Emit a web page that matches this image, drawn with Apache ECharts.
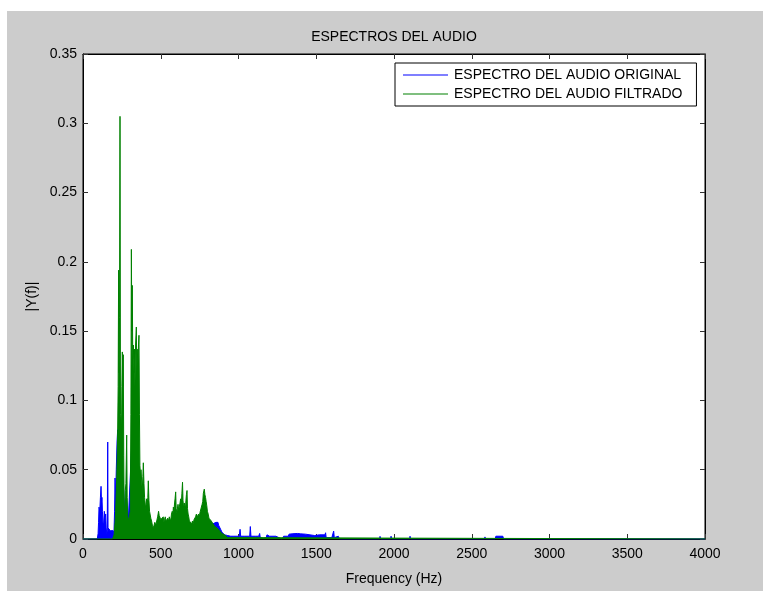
<!DOCTYPE html>
<html>
<head>
<meta charset="utf-8">
<title>ESPECTROS DEL AUDIO</title>
<script src="https://cdn.jsdelivr.net/npm/echarts@6/dist/echarts.min.js"></script>
<style>
  html, body { margin: 0; padding: 0; background: #fff; }
  #chart { width: 763px; height: 591px; }
</style>
</head>
<body>
<div id="chart"></div>
<script>
// Magnitude spectrum of the original audio (upper envelope, Hz / |Y(f)|)
const blueHz = [0, 92, 97, 100, 103, 108, 112, 116, 119, 122, 125, 128, 132, 137, 142, 146, 149, 153, 156, 159, 161, 165, 170, 176, 182, 188, 194, 199, 203, 206, 210, 214, 219, 223, 226,
  230, 240, 250, 260, 270, 280, 290, 300, 310, 320, 330, 340, 350, 360, 370, 380, 390, 400, 420, 440, 460, 480, 500, 520, 540, 560, 580, 600, 620, 640, 660, 680, 700, 720, 740, 760, 780, 800, 820, 830,
  836, 842, 848, 855, 862, 868, 872, 878, 885, 893, 900, 910, 920, 930, 950, 970, 990, 1005, 1010, 1014, 1040, 1072, 1076, 1080, 1110, 1130, 1136, 1140, 1160, 1178, 1183, 1190, 1200, 1240, 1250, 1280, 1290, 1320, 1325, 1350, 1380, 1400, 1430, 1440, 1490, 1520, 1556, 1560, 1564, 1600, 1612, 1616, 1642, 1650,
  1908, 1910, 1914, 1979, 1981, 1984, 2101, 2103, 2106, 2583, 2585, 2588, 2650, 2655, 2700, 2705, 4000];
const blueAmp = [0, 0, 0.004, 0.012, 0.023, 0.02, 0.03, 0.038, 0.027, 0.03, 0.02, 0.012, 0.01, 0.02, 0.016, 0.018, 0.008, 0.004, 0.006, 0.070, 0.008, 0.007, 0.008, 0.006, 0.007, 0.005, 0.006, 0.004, 0.02, 0.044, 0.03, 0.05, 0.07, 0.079, 0.06,
  0.07, 0.06, 0.05, 0.04, 0.015, 0.03, 0.01, 0.01, 0.06, 0.08, 0.07, 0.06, 0.07, 0.05, 0.03, 0.025, 0.025, 0.018, 0.018, 0.009, 0.007, 0.011, 0.01, 0.009, 0.009, 0.01, 0.013, 0.015, 0.015, 0.02, 0.016, 0.01, 0.009, 0.01, 0.012, 0.015, 0.02, 0.014, 0.011, 0.01,
  0.011, 0.012, 0.011, 0.012, 0.012, 0.012, 0.01, 0.009, 0.007, 0.005, 0.004, 0.003, 0.0025, 0.0025, 0.002, 0.002, 0.002, 0.002, 0.007, 0.002, 0.002, 0.002, 0.009, 0.002, 0.002, 0.002, 0.004, 0.001, 0.0005, 0.001, 0.003, 0.002, 0.002, 0.002, 0.001, 0, 0.002, 0.002, 0.0035, 0.0038, 0.004, 0.0037, 0.0035, 0.0025, 0.0025, 0.003, 0.003, 0.0045, 0.001, 0.001, 0.0057, 0.001, 0.002, 0,
  0, 0.0019, 0, 0, 0.002, 0, 0, 0.002, 0, 0, 0.0015, 0, 0, 0.002, 0.002, 0, 0];

// Magnitude spectrum of the filtered audio (upper envelope, Hz / |Y(f)|)
const greenHz = [0, 190, 200, 206, 210, 214, 217, 220, 223, 226, 229, 232, 235, 238, 241, 244, 247, 250, 253, 256, 259, 262, 265, 268, 272, 276, 281, 284, 288, 292, 296, 300, 304, 308, 311, 314, 317, 320, 324, 328, 331, 334, 338, 343, 346, 349, 353, 357, 360, 363, 366, 370, 373, 377, 381, 385, 388, 392, 396, 399, 403, 406, 409, 413, 417, 420, 424, 428, 431, 436, 441, 446, 452, 457, 462, 468, 474, 480, 486, 490, 494, 500, 506, 511, 516, 520, 524, 529, 534, 540, 545, 550, 555, 559, 564, 569, 574, 578, 581, 585, 589, 592, 596, 599, 603, 607, 611, 615, 619, 624, 628, 632, 636, 640, 643, 647, 651, 655, 659, 662, 665, 669, 672, 676, 680, 684, 689, 694, 699, 704, 709, 714, 719, 724, 729, 733, 738, 743, 748, 752, 757, 762, 766, 770, 774, 777, 780, 784, 788, 792, 796, 800, 805, 810, 815, 820, 825, 830, 836, 842, 848, 855, 862, 870, 878, 885, 893, 900, 910, 920, 930, 940, 4000];
const greenAmp = [0, 0, 0.003, 0.012, 0.02, 0.035, 0.044, 0.06, 0.079, 0.11, 0.194, 0.12, 0.16, 0.305, 0.09, 0.088, 0.07, 0.11, 0.135, 0.11, 0.133, 0.06, 0.016, 0.02, 0.035, 0.04, 0.075, 0.03, 0.016, 0.013, 0.012, 0.013, 0.02, 0.09, 0.209, 0.15, 0.183, 0.13, 0.14, 0.12, 0.137, 0.11, 0.14, 0.153, 0.12, 0.137, 0.125, 0.14, 0.147, 0.09, 0.053, 0.045, 0.05, 0.051, 0.035, 0.045, 0.055, 0.04, 0.03, 0.029, 0.022, 0.025, 0.029, 0.025, 0.03, 0.042, 0.028, 0.02, 0.02, 0.015, 0.013, 0.01, 0.008, 0.01, 0.012, 0.01, 0.013, 0.016, 0.02, 0.017, 0.018, 0.014, 0.013, 0.015, 0.016, 0.012, 0.014, 0.016, 0.013, 0.012, 0.015, 0.013, 0.016, 0.016, 0.013, 0.018, 0.02, 0.017, 0.023, 0.02, 0.026, 0.029, 0.034, 0.022, 0.019, 0.02, 0.025, 0.021, 0.022, 0.026, 0.029, 0.024, 0.033, 0.041, 0.028, 0.022, 0.026, 0.025, 0.022, 0.028, 0.032, 0.035, 0.022, 0.018, 0.016, 0.013, 0.014, 0.012, 0.011, 0.013, 0.011, 0.014, 0.013, 0.016, 0.018, 0.017, 0.016, 0.018, 0.016, 0.019, 0.02, 0.02, 0.025, 0.027, 0.033, 0.034, 0.036, 0.032, 0.03, 0.027, 0.024, 0.02, 0.018, 0.015, 0.016, 0.014, 0.013, 0.012, 0.011, 0.01, 0.009, 0.008, 0.008, 0.007, 0.006, 0.005, 0.004, 0.004, 0.003, 0.002, 0.001, 0, 0];

const seriesNames = ['ESPECTRO DEL AUDIO ORIGINAL', 'ESPECTRO DEL AUDIO FILTRADO'];
const chartTitle = 'ESPECTROS DEL AUDIO';
const xTitle = 'Frequency (Hz)';
const yTitle = '|Y(f)|';

const pairs = (xs, ys) => xs.map((x, i) => [x, ys[i]]);

const FONT = 'Liberation Sans, Arial, sans-serif';
const chart = echarts.init(document.getElementById('chart'), null, { renderer: 'canvas' });

// Inward ticks on all four sides of the axes box
const makeTick = () => ({ show: true, inside: true, length: 5, lineStyle: { color: '#333', width: 1 } });
const makeLine = () => ({ show: true, onZero: false, lineStyle: { color: '#000', width: 1 } });
const labelStyle = () => ({ color: '#000', fontFamily: FONT, fontSize: 14 });

chart.setOption({
  animation: false,
  backgroundColor: '#ffffff',
  graphic: [
    { type: 'rect', z: -10, silent: true, shape: { x: 7, y: 11, width: 756, height: 580 }, style: { fill: '#cccccc' } },
    { type: 'text', z: 10, x: 394, y: 37, style: { text: chartTitle, font: '14px ' + FONT, fill: '#000', textAlign: 'center', textVerticalAlign: 'middle' } }
  ],
  grid: {
    left: 83, right: 58, top: 54, bottom: 49,
    show: true, backgroundColor: '#ffffff', borderColor: '#000', borderWidth: 1
  },
  legend: {
    orient: 'vertical',
    left: 395, top: 63,
    padding: [5, 14, 5, 8],
    itemGap: 5,
    itemWidth: 45, itemHeight: 1,
    icon: 'rect',
    backgroundColor: '#ffffff', borderColor: '#000', borderWidth: 1,
    textStyle: { color: '#000', fontFamily: FONT, fontSize: 14, padding: [0, 0, 0, 1] },
    data: seriesNames
  },
  xAxis: [
    {
      type: 'value', min: 0, max: 4000, interval: 500, position: 'bottom',
      name: xTitle, nameLocation: 'middle', nameGap: 33,
      nameTextStyle: labelStyle(),
      axisLine: makeLine(), axisTick: makeTick(), splitLine: { show: false },
      axisLabel: Object.assign({ margin: 8, formatter: v => String(v) }, labelStyle())
    },
    {
      type: 'value', min: 0, max: 4000, interval: 500, position: 'top',
      axisLine: makeLine(), axisTick: makeTick(), splitLine: { show: false },
      axisLabel: { show: false }
    }
  ],
  yAxis: [
    {
      type: 'value', min: 0, max: 0.35, interval: 0.05, position: 'left',
      name: yTitle, nameLocation: 'middle', nameGap: 44, nameRotate: 90,
      nameTextStyle: labelStyle(),
      axisLine: makeLine(), axisTick: makeTick(), splitLine: { show: false },
      axisLabel: Object.assign({ margin: 6 }, labelStyle())
    },
    {
      type: 'value', min: 0, max: 0.35, interval: 0.05, position: 'right',
      axisLine: makeLine(), axisTick: makeTick(), splitLine: { show: false },
      axisLabel: { show: false }
    }
  ],
  series: [
    {
      name: seriesNames[0], type: 'line', xAxisIndex: 0, yAxisIndex: 0,
      data: pairs(blueHz, blueAmp),
      symbol: 'none', showSymbol: false, sampling: false,
      color: '#0000ff',
      lineStyle: { color: '#0000ff', width: 1 },
      areaStyle: { color: '#0000ff', opacity: 1, origin: 'start' },
      z: 2
    },
    {
      name: seriesNames[1], type: 'line', xAxisIndex: 0, yAxisIndex: 0,
      data: pairs(greenHz, greenAmp),
      symbol: 'none', showSymbol: false, sampling: false,
      color: '#008000',
      lineStyle: { color: '#008000', width: 1 },
      areaStyle: { color: '#008000', opacity: 1, origin: 'start' },
      z: 3
    }
  ]
});
</script>
</body>
</html>
